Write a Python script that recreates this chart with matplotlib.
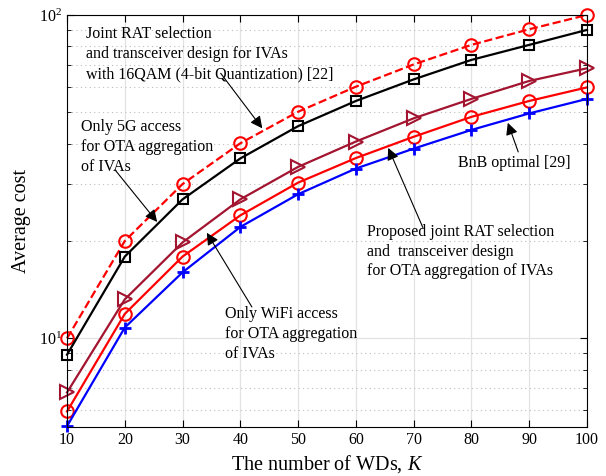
import numpy as np
import matplotlib.pyplot as plt
from matplotlib.ticker import NullFormatter, LogLocator

plt.rcParams['font.family'] = 'Liberation Serif'
plt.rcParams['mathtext.fontset'] = 'custom'
plt.rcParams['mathtext.rm'] = 'Liberation Serif'
plt.rcParams['mathtext.it'] = 'Liberation Serif:italic'
plt.rcParams['font.size'] = 11

K = [10, 20, 30, 40, 50, 60, 70, 80, 90, 100]

cost_16qam = [10.0, 20.0, 30.0, 40.1, 50.2, 60.0, 70.3, 80.8, 90.3, 100.0]
cost_5g = [8.9, 17.9, 26.9, 36.0, 45.3, 54.2, 63.2, 72.6, 80.8, 89.9]
cost_wifi = [6.8, 13.2, 19.8, 26.9, 33.9, 40.6, 47.9, 55.0, 62.5, 68.4]
cost_proposed = [5.94, 11.9, 17.9, 24.0, 30.3, 36.1, 42.0, 48.4, 54.2, 59.7]
cost_bnb = [5.35, 10.8, 16.0, 22.1, 27.9, 33.5, 38.6, 44.1, 49.6, 55.0]

fig = plt.figure(figsize=(6.06, 4.76), dpi=100)
ax = fig.add_axes([0.1106, 0.1036, 0.858, 0.865])

ax.plot(K, cost_16qam, '--o', color='#ff0000', lw=1.6, ms=9, mfc='none', mew=1.5, clip_on=False)
ax.plot(K, cost_5g, '-s', color='black', lw=1.6, ms=6.5, mfc='none', mew=1.5, clip_on=False)
ax.plot(K, cost_wifi, '->', color='#a2142f', lw=1.6, ms=10, mfc='none', mew=1.5, clip_on=False)
ax.plot(K, cost_proposed, '-o', color='#ff0000', lw=1.6, ms=9, mfc='none', mew=1.5, clip_on=False)
ax.plot(K, cost_bnb, '-+', color='#0000ff', lw=1.6, ms=9, mew=2, clip_on=False)

ax.set_yscale('log')
ax.set_xlim(10, 100)
ax.set_ylim(5.33, 100)
ax.set_xticks(K)
ax.yaxis.set_minor_locator(LogLocator(base=10, subs=np.arange(2, 10)))
ax.yaxis.set_minor_formatter(NullFormatter())

ax.grid(True, which='major', color='#e3e3e3', lw=0.9, ls='-')
ax.grid(True, which='minor', axis='y', color='#bdbdbd', lw=0.8, ls=(0, (1, 3)))
ax.set_axisbelow(True)

ax.tick_params(which='both', direction='in', top=True, right=True, labelsize=11.5)
ax.tick_params(which='major', length=5, width=0.8)
ax.tick_params(which='minor', length=3, width=0.6)
for s in ax.spines.values():
    s.set_linewidth(0.8)

ax.set_xlabel('The number of WDs, $K$', fontsize=14.5, labelpad=4)
ax.set_ylabel('Average cost', fontsize=14.5, labelpad=6)

fs = 11.5
ls = 1.35
ax.text(0.0365, 0.973, 'Joint RAT selection\nand transceiver design for IVAs\nwith 16QAM (4-bit Quantization) [22]',
        transform=ax.transAxes, va='top', ha='left', fontsize=fs, linespacing=ls)
ax.text(0.027, 0.748, 'Only 5G access\nfor OTA aggregation\nof IVAs',
        transform=ax.transAxes, va='top', ha='left', fontsize=fs, linespacing=ls)
ax.text(0.304, 0.293, 'Only WiFi access\nfor OTA aggregation\nof IVAs',
        transform=ax.transAxes, va='top', ha='left', fontsize=fs, linespacing=ls)
ax.text(0.577, 0.492, 'Proposed joint RAT selection\nand  transceiver design\nfor OTA aggregation of IVAs',
        transform=ax.transAxes, va='top', ha='left', fontsize=fs, linespacing=1.3)
ax.text(0.752, 0.66, 'BnB optimal [29]',
        transform=ax.transAxes, va='top', ha='left', fontsize=fs)

arrow = dict(arrowstyle='-|>', color='black', lw=0.8, mutation_scale=18, shrinkA=0, shrinkB=0)
ax.annotate('', xy=(43.8, 44.6), xytext=(36.6, 66.0), arrowprops=arrow)
ax.annotate('', xy=(25.6, 22.9), xytext=(18.3, 33.2), arrowprops=arrow)
ax.annotate('', xy=(34.2, 21.2), xytext=(42.0, 12.5), arrowprops=arrow)
ax.annotate('', xy=(65.6, 38.8), xytext=(71.6, 22.0), arrowprops=arrow)
ax.annotate('', xy=(86.3, 46.4), xytext=(88.1, 37.7), arrowprops=arrow)

plt.savefig('out.png', dpi=100)
